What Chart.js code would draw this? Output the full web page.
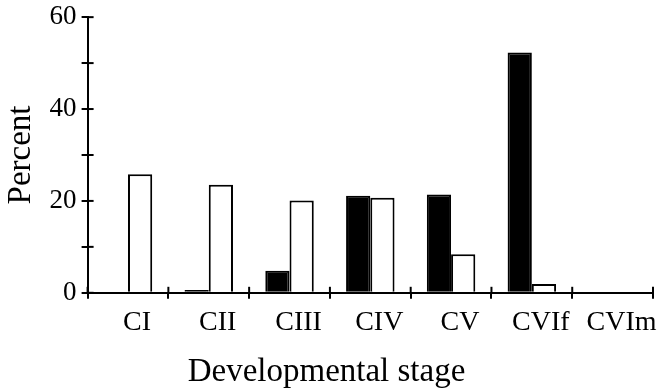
<!DOCTYPE html>
<html>
<head>
<meta charset="utf-8">
<script src="https://cdn.jsdelivr.net/npm/chart.js@4"></script>
<style>
  html, body { margin: 0; padding: 0; background: #fff; }
  #wrap { width: 664px; height: 392px; }
</style>
</head>
<body>
<div id="wrap"><canvas id="c"></canvas></div>
<script>
// Developmental stages on the x axis
const stages = ['CI', 'CII', 'CIII', 'CIV', 'CV', 'CVIf', 'CVIm'];
// Percent of individuals per stage, filled (black) and open (white) bars
const filledPercent = [0, 0.6, 4.8, 21.1, 21.4, 52.3, 0];
const openPercent = [25.8, 23.5, 20.1, 20.7, 8.4, 1.9, 0];
// Labelled y ticks; unlabelled minor ticks fall halfway between them
const yLabelled = [0, 20, 40, 60];
const yStep = 10;

const serif = '"Liberation Serif", "Times New Roman", serif';

// Short tick marks on the inner side of both axes, so each tick crosses its axis
const innerTicks = {
  id: 'innerTicks',
  afterDatasetsDraw(chart) {
    const { ctx, scales: { x, y } } = chart;
    ctx.save();
    ctx.strokeStyle = '#000';
    ctx.lineWidth = 2;
    y.ticks.forEach((t, i) => {
      const py = y.getPixelForTick(i);
      ctx.beginPath();
      ctx.moveTo(x.left, py);
      ctx.lineTo(x.left + 6, py);
      ctx.stroke();
    });
    for (let i = 0; i <= x.ticks.length; i++) {
      const px = x.getPixelForValue(i - 0.5);
      ctx.beginPath();
      ctx.moveTo(px, y.bottom);
      ctx.lineTo(px, y.bottom - 6);
      ctx.stroke();
    }
    ctx.restore();
  }
};

new Chart(document.getElementById('c'), {
  type: 'bar',
  data: {
    labels: stages,
    datasets: [
      {
        data: filledPercent,
        backgroundColor: '#000',
        borderColor: '#000',
        borderWidth: 2,
        barPercentage: 1.0,
        categoryPercentage: 0.6
      },
      {
        data: openPercent,
        backgroundColor: '#fff',
        borderColor: '#000',
        borderWidth: 2,
        barPercentage: 1.0,
        categoryPercentage: 0.6
      }
    ]
  },
  options: {
    responsive: true,
    maintainAspectRatio: false,
    devicePixelRatio: 1,
    animation: false,
    layout: { padding: { left: 0, right: 11, top: 0, bottom: 0 } },
    plugins: {
      legend: { display: false },
      tooltip: { enabled: false },
      title: {
        display: true,
        position: 'bottom',
        text: 'Developmental stage',
        color: '#000',
        font: { family: serif, size: 33, weight: 'normal' },
        padding: { top: 6, bottom: 0 }
      }
    },
    scales: {
      x: {
        border: { color: '#000', width: 2 },
        grid: { drawOnChartArea: false, offset: true, tickLength: 6, color: '#000', lineWidth: 2 },
        ticks: {
          color: '#000',
          font: { family: serif, size: 28 },
          padding: 7,
          labelOffset: 9,
          maxRotation: 0
        }
      },
      y: {
        min: yLabelled[0],
        max: yLabelled[yLabelled.length - 1],
        border: { color: '#000', width: 2 },
        grid: { drawOnChartArea: false, tickLength: 6, color: '#000', lineWidth: 2 },
        ticks: {
          stepSize: yStep,
          color: '#000',
          font: { family: serif, size: 27, lineHeight: 0.9 },
          padding: 5,
          callback: (v) => (yLabelled.includes(v) ? String(v) : '')
        },
        title: {
          display: true,
          text: 'Percent',
          color: '#000',
          font: { family: serif, size: 33 },
          padding: { top: 2, bottom: 3 }
        }
      }
    }
  },
  plugins: [innerTicks]
});
</script>
</body>
</html>
